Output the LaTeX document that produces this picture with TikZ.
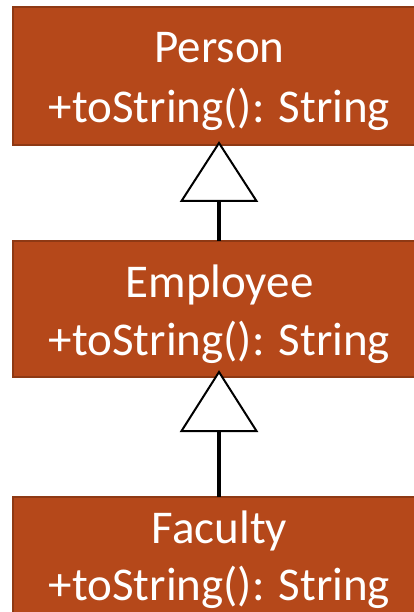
\documentclass[tikz,border=0pt]{standalone}
\usepackage{fontspec}
\setmainfont{Carlito}
\definecolor{boxfill}{HTML}{B5481A}
\definecolor{boxedge}{HTML}{8E3914}
\begin{document}
\begin{tikzpicture}[x=1pt,y=-1pt,
  classbox/.style={draw=boxedge,line width=2pt,fill=boxfill},
  classtext/.style={text=white,anchor=base,font=\fontsize{47}{60}\selectfont,inner sep=0pt},
  conn/.style={line width=4pt,draw=black},
  tri/.style={draw=black,line width=2pt,fill=white,line join=miter}]
\useasboundingbox (0,0) rectangle (414,612);
\clip (0,0) rectangle (414,612);
% boxes
\draw[classbox] (13,7) rectangle (440,145);
\draw[classbox] (13,241) rectangle (440,377);
\draw[classbox] (13,497) rectangle (440,640);
% texts
\node[classtext] (person) at (219.5,63) {Person};
\node[classtext] (personop) at (219.5,123) {+toString(): String};
\node[classtext] (employee) at (219.5,297) {Employee};
\node[classtext] (employeeop) at (219.5,355) {+toString(): String};
\node[classtext] (faculty) at (219.5,543) {Faculty};
\node[classtext] (facultyop) at (219.5,600) {+toString(): String};
% connectors
\coordinate (t1) at (219,143);
\coordinate (b1) at (219,201);
\coordinate (e1) at (219,241);
\coordinate (t2) at (219,372);
\coordinate (b2) at (219,431);
\coordinate (f1) at (219,497);
\draw[conn] (b1) -- (e1);
\draw[conn] (b2) -- (f1);
\draw[tri] (t1) -- ([xshift=-37.5pt]b1) -- ([xshift=37.5pt]b1) -- cycle;
\draw[tri] (t2) -- ([xshift=-37.5pt]b2) -- ([xshift=37.5pt]b2) -- cycle;
\end{tikzpicture}
\end{document}
